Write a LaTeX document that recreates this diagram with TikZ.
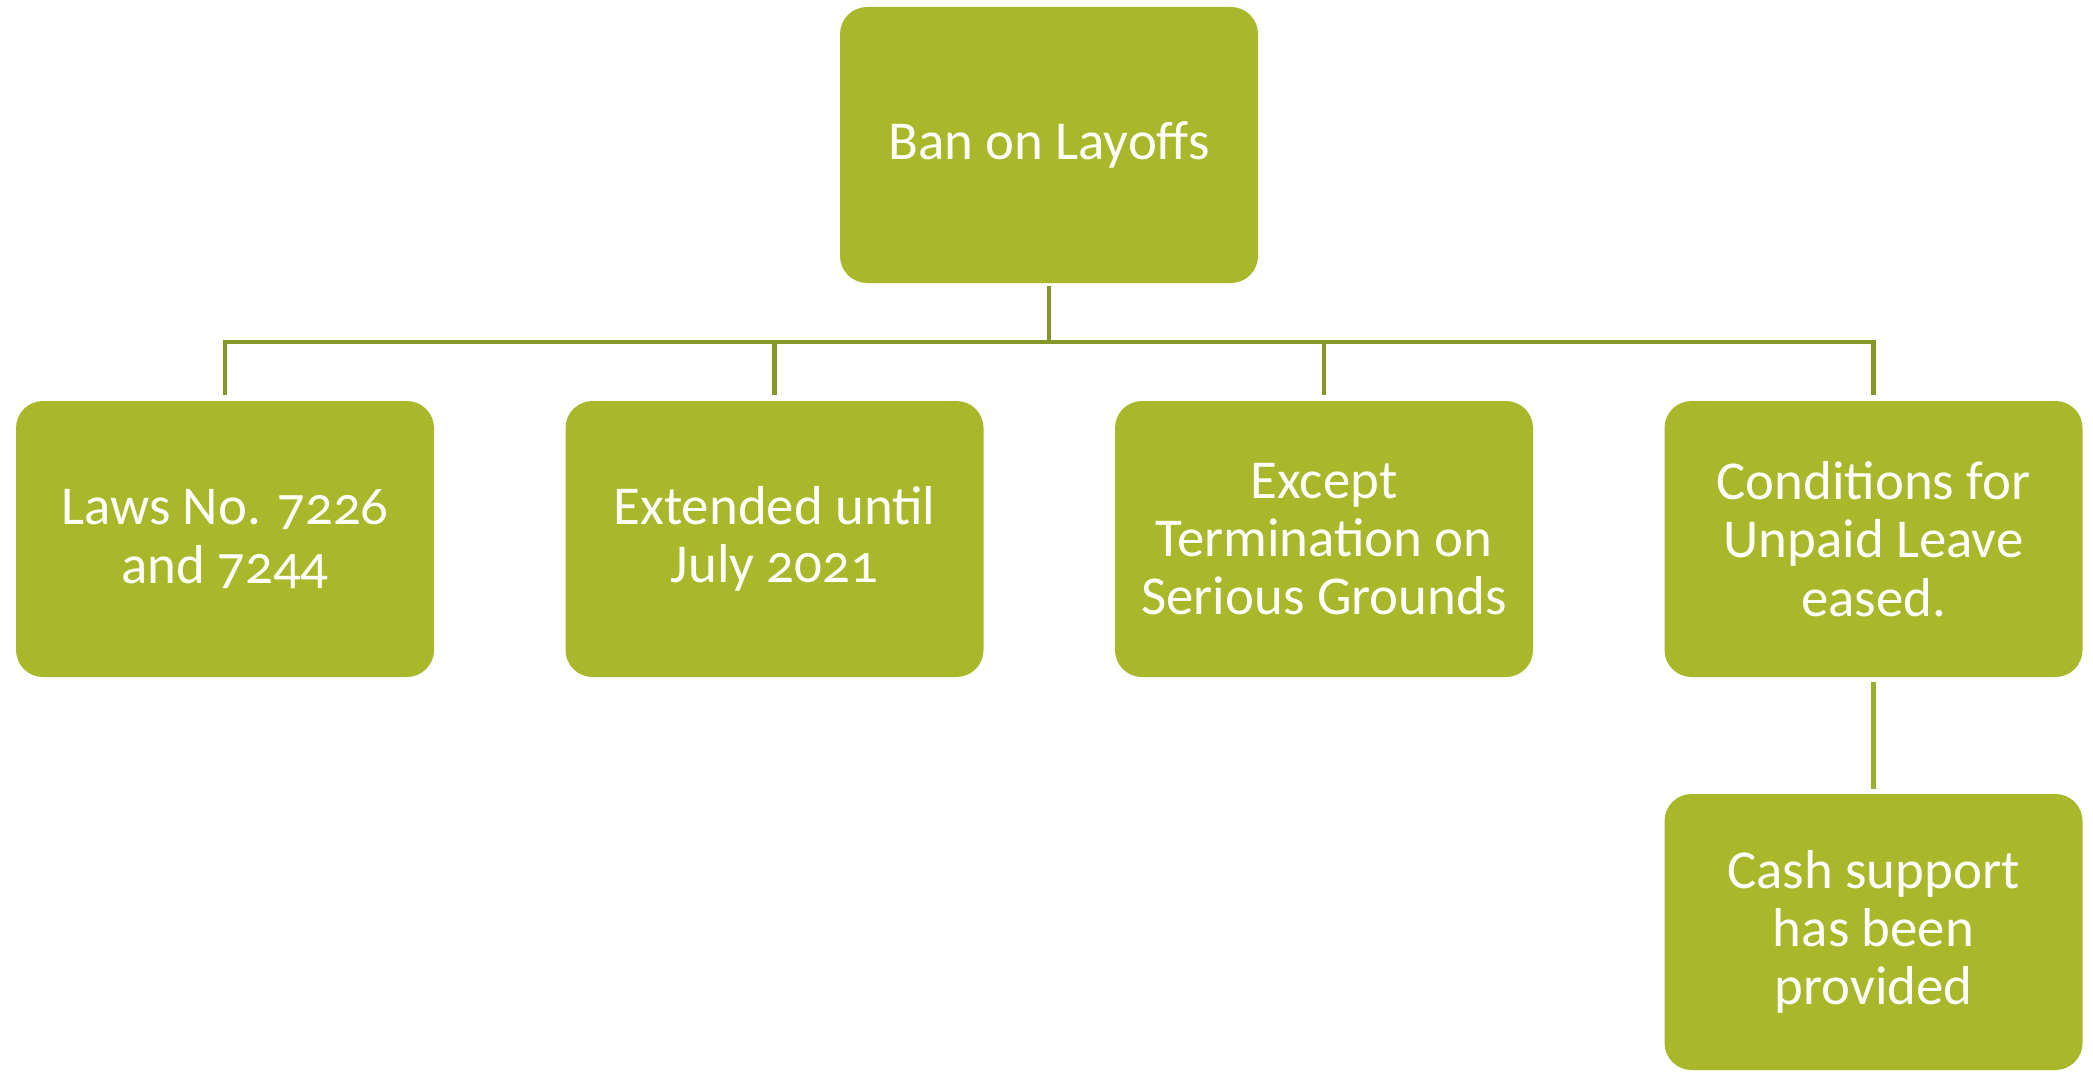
\documentclass[tikz,border=0pt]{standalone}
\usepackage{fontspec}
\setmainfont{Carlito}[Numbers=OldStyle]
\usepackage{xcolor}
\usepackage{tikz}
\definecolor{boxgreen}{HTML}{A8B82A}
\definecolor{linkgreen}{HTML}{86962A}
\definecolor{sublinkgreen}{HTML}{9BAE2E}
\newcommand\boxfont{\fontsize{15.6pt}{16.6pt}\selectfont}

\begin{document}
\begin{tikzpicture}[
    greenbox/.style={rectangle, rounded corners=0.27cm, fill=boxgreen,
      text=white, align=center, inner sep=0pt,
      minimum width=4.18cm, minimum height=2.76cm, font=\boxfont},
    link/.style={draw=linkgreen, line width=1.3pt,
      shorten <=0.02cm, shorten >=0.05cm},
    sublink/.style={draw=sublinkgreen, line width=1.2pt,
      shorten <=0.04cm, shorten >=0.04cm}
  ]
    \useasboundingbox (0,0) rectangle (20.93,-10.71);

    \coordinate (Ban) at (10.49, -1.45);

    \coordinate (Laws) at (2.25, -5.39);
    \coordinate (Ext) at (7.745, -5.39);
    \coordinate (Exc) at (13.24, -5.39);
    \coordinate (Cond) at (18.735, -5.39);

    \coordinate (Cash) at (18.735, -9.32);

    \node[greenbox] (ban) at (Ban) {Ban on Layoffs};

    \node[greenbox] (laws) at (Laws) {Laws No. 7226\\and 7244};
    \node[greenbox] (ext) at (Ext) {Extended until\\July 2021};
    \node[greenbox] (exc) at (Exc) {Except\\Termination on\\Serious Grounds};
    \node[greenbox] (cond) at (Cond) {Conditions for\\Unpaid Leave\\eased.};

    \node[greenbox] (cash) at (Cash) {Cash support\\has been\\provided};

    \draw[link] (ban.south) -- ++(0,-0.585) -| (laws.north);
    \draw[link] (ban.south) -- ++(0,-0.585) -| (ext.north);
    \draw[link] (ban.south) -- ++(0,-0.585) -| (exc.north);
    \draw[link] (ban.south) -- ++(0,-0.585) -| (cond.north);

    \draw[sublink] (cond.south) -- (cash.north);

  \end{tikzpicture}
\end{document}
